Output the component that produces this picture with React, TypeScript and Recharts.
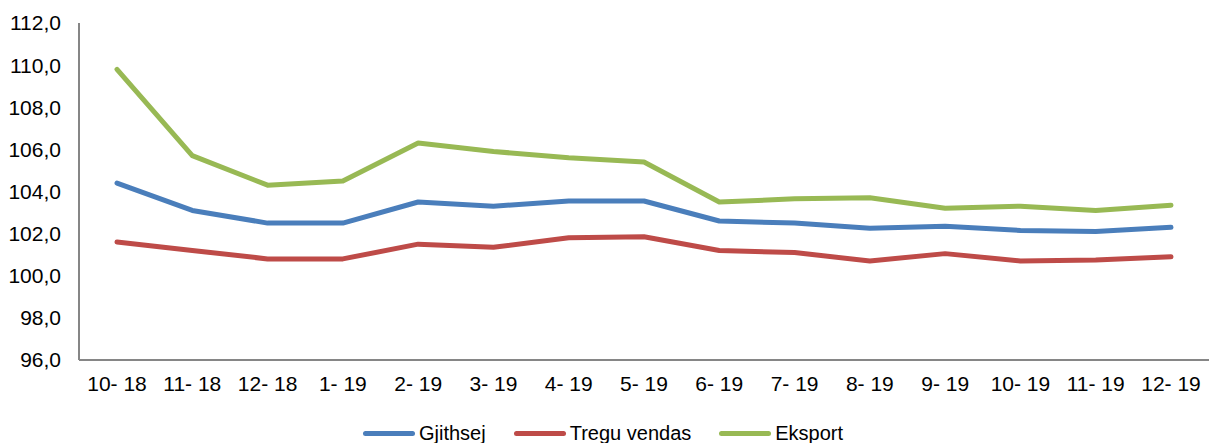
import * as React from 'react';
import { LineChart, Line, XAxis, YAxis } from 'recharts';

// categories (month- year)
const months = [
  '10- 18', '11- 18', '12- 18', '1- 19', '2- 19', '3- 19', '4- 19', '5- 19',
  '6- 19', '7- 19', '8- 19', '9- 19', '10- 19', '11- 19', '12- 19',
];

const gjithsej = [
  104.4, 103.1, 102.5, 102.5, 103.5, 103.3, 103.55, 103.55,
  102.6, 102.5, 102.25, 102.35, 102.15, 102.1, 102.3,
];
const treguVendas = [
  101.6, 101.2, 100.8, 100.8, 101.5, 101.35, 101.8, 101.85,
  101.2, 101.1, 100.7, 101.05, 100.7, 100.75, 100.9,
];
const eksport = [
  109.8, 105.7, 104.3, 104.5, 106.3, 105.9, 105.6, 105.4,
  103.5, 103.65, 103.7, 103.2, 103.3, 103.1, 103.35,
];

const yTicks = [96, 98, 100, 102, 104, 106, 108, 110, 112];

const series = [
  { key: 'gjithsej', name: 'Gjithsej', color: '#4A7EBB' },
  { key: 'tregu', name: 'Tregu vendas', color: '#BE4B48' },
  { key: 'eksport', name: 'Eksport', color: '#98B954' },
];

const data = months.map((m, i) => ({
  m,
  gjithsej: gjithsej[i],
  tregu: treguVendas[i],
  eksport: eksport[i],
}));

const FONT = 'Arial, "Liberation Sans", sans-serif';
const fmt = (v: number) => v.toFixed(1).replace('.', ',');

// legend sits below the chart like the Excel original (clipped at the bottom edge)
function LegendRow() {
  return (
    <div
      style={{
        position: 'absolute', left: 363, top: 421,
        display: 'flex', gap: 28,
        fontFamily: FONT, fontSize: 20, color: '#000', lineHeight: '24px',
      }}
    >
      {series.map((s) => (
        <div key={s.key} style={{ display: 'flex', alignItems: 'center', gap: 4 }}>
          <div style={{ width: 52, height: 5, borderRadius: 3, background: s.color }} />
          <span>{s.name}</span>
        </div>
      ))}
    </div>
  );
}

export default function App() {
  return (
    <div style={{ position: 'absolute', left: 0, top: 0, width: 1209, height: 443, background: '#fff', overflow: 'hidden' }}>
      <LineChart
        width={1209}
        height={443}
        data={data}
        margin={{ top: 23, right: 0, bottom: 43, left: 0 }}
      >
        <XAxis
          dataKey="m"
          height={40}
          padding={{ left: 38, right: 38 }}
          axisLine={{ stroke: '#868686', strokeWidth: 2 }}
          tickLine={false}
          tickSize={0}
          tickMargin={16}
          interval={0}
          tick={{ fontSize: 21, fill: '#000', fontFamily: FONT }}
        />
        <YAxis
          domain={[96, 112]}
          ticks={yTicks}
          width={79}
          axisLine={{ stroke: '#868686', strokeWidth: 2 }}
          tickLine={false}
          tickSize={0}
          tickMargin={18}
          tickFormatter={fmt}
          tick={{ fontSize: 21, fill: '#000', fontFamily: FONT }}
        />
        {series.map((s) => (
          <Line
            key={s.key}
            type="linear"
            dataKey={s.key}
            name={s.name}
            stroke={s.color}
            strokeWidth={5}
            strokeLinecap="round"
            strokeLinejoin="round"
            dot={false}
            isAnimationActive={false}
          />
        ))}
      </LineChart>
      <LegendRow />
    </div>
  );
}
